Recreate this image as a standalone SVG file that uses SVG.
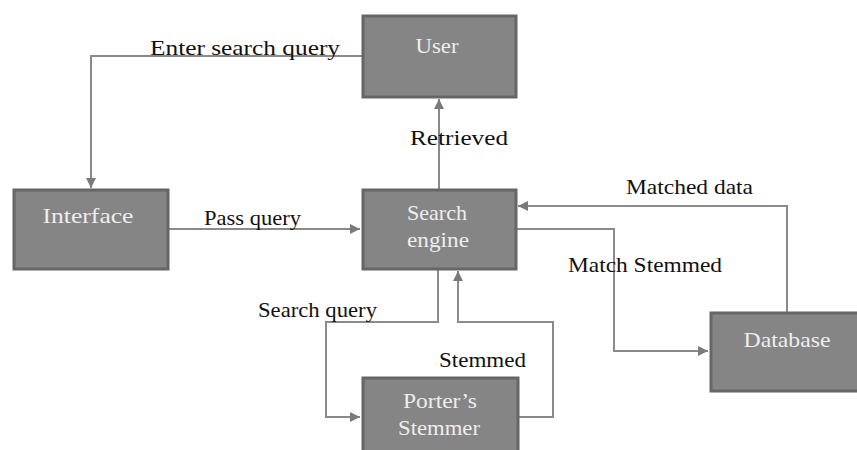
<svg xmlns="http://www.w3.org/2000/svg" width="857" height="450" viewBox="0 0 857 450">
<style>
.box{fill:#858585;stroke:#666666;stroke-width:3}
.nt{font-family:"Liberation Serif",serif;font-size:22px;fill:#eeeeee;text-anchor:middle}
.lb{font-family:"Liberation Serif",serif;font-size:22px;fill:#111111}
.ln{fill:none;stroke:#8a8a8a;stroke-width:2}
</style>
<defs>
<marker id="ah" viewBox="0 0 10 10" refX="10" refY="5" markerWidth="5" markerHeight="5" orient="auto" markerUnits="strokeWidth">
<path d="M0,0 L10,5 L0,10 z" fill="#7a7a7a"/>
</marker>
</defs>
<rect width="857" height="450" fill="#ffffff"/>
<g id="connectors">
<polyline class="ln" points="362,56 91,56 91,188" marker-end="url(#ah)"/>
<line class="ln" x1="439" y1="189" x2="439" y2="99" marker-end="url(#ah)"/>
<line class="ln" x1="168" y1="229" x2="360" y2="229" marker-end="url(#ah)"/>
<polyline class="ln" points="438,269 438,322 326,322 326,417 360,417" marker-end="url(#ah)"/>
<polyline class="ln" points="518,417 553,417 553,322 458,322 458,271" marker-end="url(#ah)"/>
<polyline class="ln" points="787,312 787,206 518,206" marker-end="url(#ah)"/>
<polyline class="ln" points="516,229 614,229 614,351 708,351" marker-end="url(#ah)"/>
</g>
<g id="labels">
<text class="lb" x="150" y="55" textLength="190" lengthAdjust="spacingAndGlyphs">Enter search query</text>
<text class="lb" x="410" y="145" textLength="98" lengthAdjust="spacingAndGlyphs">Retrieved</text>
<text class="lb" x="204" y="225" textLength="97" lengthAdjust="spacingAndGlyphs">Pass query</text>
<text class="lb" x="626" y="194" textLength="127" lengthAdjust="spacingAndGlyphs">Matched data</text>
<text class="lb" x="568" y="272" textLength="154" lengthAdjust="spacingAndGlyphs">Match Stemmed</text>
<text class="lb" x="258" y="317" textLength="119" lengthAdjust="spacingAndGlyphs">Search query</text>
<text class="lb" x="439" y="367" textLength="87" lengthAdjust="spacingAndGlyphs">Stemmed</text>
</g>
<g id="user">
<rect class="box" x="363" y="16" width="153" height="81"/>
<text class="nt" x="437" y="53" textLength="43" lengthAdjust="spacingAndGlyphs">User</text>
</g>
<g id="interface">
<rect class="box" x="14" y="190" width="154" height="79"/>
<text class="nt" x="88" y="223" textLength="91" lengthAdjust="spacingAndGlyphs">Interface</text>
</g>
<g id="search-engine">
<rect class="box" x="363" y="190" width="153" height="79"/>
<text class="nt" x="437" y="220" textLength="60" lengthAdjust="spacingAndGlyphs">Search</text>
<text class="nt" x="438" y="247" textLength="62" lengthAdjust="spacingAndGlyphs">engine</text>
</g>
<g id="porters-stemmer">
<rect class="box" x="363" y="378" width="155" height="80"/>
<text class="nt" x="440" y="408" textLength="74" lengthAdjust="spacingAndGlyphs">Porter’s</text>
<text class="nt" x="439" y="435" textLength="82" lengthAdjust="spacingAndGlyphs">Stemmer</text>
</g>
<g id="database">
<rect class="box" x="711" y="313" width="160" height="78"/>
<text class="nt" x="787" y="347" textLength="87" lengthAdjust="spacingAndGlyphs">Database</text>
</g>
</svg>
